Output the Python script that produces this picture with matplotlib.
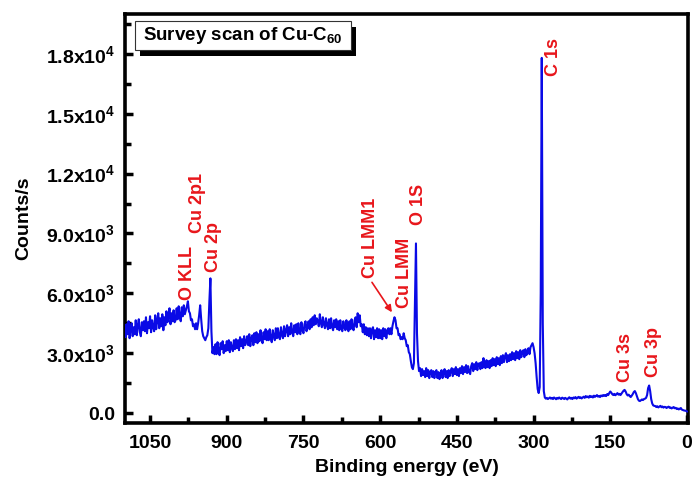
import numpy as np
import matplotlib
matplotlib.use("Agg")
import matplotlib.pyplot as plt
from matplotlib.patches import Rectangle
from matplotlib.ticker import FixedLocator, MultipleLocator, FixedFormatter

plt.rcParams['font.family'] = ['Liberation Sans', 'DejaVu Sans']
plt.rcParams['font.weight'] = 'bold'
plt.rcParams['mathtext.fontset'] = 'custom'
plt.rcParams['mathtext.rm'] = 'Liberation Sans:bold'
plt.rcParams['mathtext.bf'] = 'Liberation Sans:bold'

# XPS survey spectrum, counts/s sampled every 2 eV from 1100 eV down to 0 eV
counts = [
    4400, 3800, 4450, 3950, 4600, 3750, 4200, 4500, 3850, 4300,   # 1100
    3950, 4650, 3900, 4400, 4700, 4050, 3850, 4550, 4150, 4600,   # 1080
    4100, 4800, 4000, 4550, 4250, 4850, 4050, 4650, 4300, 4100,   # 1060
    4900, 4200, 4650, 5000, 4250, 4750, 4350, 4950, 4150, 4800,   # 1040
    4400, 5100, 4550, 4850, 5250, 4450, 5000, 4600, 5150, 4550,   # 1020
    4650, 5250, 4700, 5350, 4850, 4600, 5300, 4850, 5400, 4950,   # 1000
    5150, 5350, 5600, 5100, 5000, 4650, 4700, 4350, 4450, 4200,   # 980
    4500, 4200, 4500, 4900, 5400, 4700, 4100, 3850, 3750, 3650,   # 960
    3800, 3900, 4250, 5600, 6750, 4100, 3000, 3300, 2950, 3450,   # 940
    2950, 3550, 3100, 2900, 3500, 3200, 3600, 3000, 3400, 3100,   # 920
    3600, 3150, 3650, 3050, 3550, 3250, 3100, 3650, 3200, 3700,   # 900
    3250, 3650, 3150, 3800, 3350, 3700, 3250, 3850, 3400, 3550,   # 880
    3850, 3400, 3950, 3350, 3750, 3900, 3400, 4000, 3550, 4050,   # 860
    3500, 3950, 3600, 4150, 3700, 3500, 4050, 3700, 4200, 3650,   # 840
    4100, 3650, 4200, 3750, 3550, 4150, 3850, 3650, 4250, 3750,   # 820
    4250, 3800, 3700, 4300, 3900, 3750, 4350, 3850, 4150, 4400,   # 800
    3850, 4300, 3950, 4500, 4050, 3850, 4400, 4050, 4450, 3950,   # 780
    4500, 4050, 3950, 4550, 4150, 4000, 4450, 4600, 4100, 4400,   # 760
    4600, 4200, 4700, 4300, 4800, 4400, 4900, 4450, 4750, 4600,   # 740
    4350, 4950, 4500, 4300, 4800, 4450, 4250, 4750, 4400, 4200,   # 720
    4700, 4250, 4750, 4300, 4150, 4650, 4300, 4700, 4200, 4600,   # 700
    4150, 4650, 4250, 4100, 4600, 4300, 4150, 4650, 4250, 4100,   # 680
    4600, 4200, 4700, 4300, 4150, 4650, 4800, 4300, 5000, 4550,   # 660
    4900, 4350, 4450, 4050, 4450, 3950, 4300, 3900, 4250, 3850,   # 640
    4250, 3750, 4200, 4300, 3700, 4150, 3800, 4250, 3750, 4200,   # 620
    3750, 4150, 3700, 4250, 3850, 4200, 3750, 4100, 4250, 3950,   # 600
    4250, 3950, 4350, 4600, 4800, 4650, 4250, 4250, 3900, 3950,   # 580
    3700, 3800, 3700, 4000, 3750, 3650, 3350, 3400, 3050, 2950,   # 560
    2600, 2300, 2200, 2500, 5500, 8500, 4000, 2600, 2100, 2250,   # 540
    1850, 2200, 1900, 2100, 1800, 2250, 1850, 2150, 1750, 2050,   # 520
    2150, 1800, 2100, 1750, 2050, 2150, 1750, 2050, 1700, 2000,   # 500
    2150, 1750, 2050, 2200, 1800, 2100, 1750, 2150, 1850, 2100,   # 480
    2250, 1850, 2200, 1950, 2300, 1900, 2200, 1850, 2250, 2000,   # 460
    2350, 1950, 2300, 2050, 2400, 2000, 2350, 2050, 1950, 2350,   # 440
    2500, 2100, 2450, 2200, 2550, 2150, 2450, 2500, 2200, 2550,   # 420
    2250, 2750, 2350, 2250, 2650, 2300, 2600, 2250, 2650, 2350,   # 400
    2750, 2400, 2700, 2350, 2800, 2450, 2750, 2400, 2850, 2500,   # 380
    2900, 2550, 2850, 3000, 2550, 2900, 2600, 2950, 2650, 3050,   # 360
    2700, 3000, 2650, 3100, 2750, 3050, 2700, 3150, 2800, 3050,   # 340
    3150, 2800, 3200, 2900, 3050, 3250, 2950, 3300, 3400, 3500,   # 320
    3300, 3000, 2500, 1800, 1200, 1000, 1300, 6000, 17800, 4500,  # 300
    1100, 780, 720, 760, 700, 740, 780, 720, 760, 700,            # 280
    780, 740, 690, 760, 720, 780, 730, 700, 770, 740,             # 260
    700, 760, 720, 680, 750, 790, 720, 760, 700, 780,             # 240
    740, 800, 720, 770, 810, 750, 790, 730, 780, 820,             # 220
    760, 850, 790, 830, 770, 860, 800, 840, 780, 870,             # 200
    810, 850, 900, 820, 860, 800, 880, 840, 900, 860,             # 180
    900, 850, 950, 900, 1000, 1080, 1020, 940, 900, 960,          # 160
    890, 940, 1000, 920, 960, 900, 980, 1050, 1120, 1160,         # 140
    1080, 950, 880, 920, 850, 800, 870, 950, 1050, 1100,          # 120
    1000, 850, 700, 620, 600, 640, 680, 650, 700, 720,            # 100
    760, 900, 1250, 1380, 1100, 700, 480, 380, 360, 350,          # 80
    300, 340, 280, 320, 360, 290, 330, 270, 310, 300,             # 60
    250, 290, 320, 260, 280, 230, 270, 300, 240, 260,             # 40
    200, 230, 180, 220, 250, 170, 150, 130, 120, 110,             # 20
    80,                                                           # 0
]
energy = np.linspace(1100, 0, len(counts))

# peak assignments: label, energy position, counts at label base
peak_labels = ['O KLL', 'Cu 2p1', 'Cu 2p', 'Cu LMM1', 'Cu LMM', 'O 1S', 'C 1s', 'Cu 3s', 'Cu 3p']
peak_label_x = [977, 957, 925, 618, 553, 526, 262, 121, 65]
peak_label_y = [5650, 9000, 7050, 6750, 5250, 9400, 16900, 1550, 1800]

# arrow from the Cu LMM1 label to its feature
arrow_start = (616, 6550)
arrow_end = (577, 5050)

x_ticks = [1050, 900, 750, 600, 450, 300, 150, 0]
x_tick_labels = ['1050', '900', '750', '600', '450', '300', '150', '0']
y_ticks = [0, 3000, 6000, 9000, 12000, 15000, 18000]
y_tick_labels = ['0.0', r'$\mathbf{3.0x10^{3}}$', r'$\mathbf{6.0x10^{3}}$',
                 r'$\mathbf{9.0x10^{3}}$', r'$\mathbf{1.2x10^{4}}$',
                 r'$\mathbf{1.5x10^{4}}$', r'$\mathbf{1.8x10^{4}}$']

W, H = 694, 482
fig = plt.figure(figsize=(W / 100, H / 100), dpi=100)
ax_l, ax_r, ax_t, ax_b = 125, 688, 14, 423
ax = fig.add_axes([ax_l / W, 1 - ax_b / H, (ax_r - ax_l) / W, (ax_b - ax_t) / H])

ax.plot(energy, counts, color='#0a0ae6', lw=1.5, zorder=3)

ax.set_xlim(1099, -2)
ax.set_ylim(-500, 20000)

ax.xaxis.set_major_locator(FixedLocator(x_ticks))
ax.xaxis.set_major_formatter(FixedFormatter(x_tick_labels))
ax.xaxis.set_minor_locator(MultipleLocator(75))
ax.yaxis.set_major_locator(FixedLocator(y_ticks))
ax.yaxis.set_major_formatter(FixedFormatter(y_tick_labels))
ax.yaxis.set_minor_locator(MultipleLocator(1500))

ax.tick_params(which='both', direction='in', top=False, right=False, width=2.5)
ax.tick_params(which='major', length=6)
ax.tick_params(which='minor', length=4)
ax.tick_params(axis='x', pad=9, labelsize=14)
ax.tick_params(axis='y', pad=7, labelsize=14)
for sp in ax.spines.values():
    sp.set_linewidth(2.6)

ax.set_xlabel('Binding energy (eV)', fontsize=14, fontweight='bold', labelpad=5)
ax.set_ylabel('Counts/s', fontsize=14, fontweight='bold', labelpad=10)

red = '#e8161b'
for lab, px, py in zip(peak_labels, peak_label_x, peak_label_y):
    ax.text(px, py, lab, rotation=90, ha='center', va='bottom', color=red,
            fontsize=13, fontweight='bold', zorder=4)

ax.annotate('', xy=arrow_end, xytext=arrow_start,
            arrowprops=dict(arrowstyle='-|>', color=red, lw=1.2,
                            mutation_scale=10, shrinkA=0, shrinkB=0))

# title box with drop shadow
bw = (351 - 135) / (ax_r - ax_l)
bh = (50 - 21) / (ax_b - ax_t)
bx = (135 - ax_l) / (ax_r - ax_l)
by = 1 - (50 - ax_t) / (ax_b - ax_t)
dx = 5 / (ax_r - ax_l)
dy = 6 / (ax_b - ax_t)
ax.add_patch(Rectangle((bx + dx, by - dy), bw, bh, transform=ax.transAxes,
                       facecolor='black', edgecolor='black', lw=0, zorder=5))
ax.add_patch(Rectangle((bx, by), bw, bh, transform=ax.transAxes,
                       facecolor='white', edgecolor='#333333', lw=0.8, zorder=6))
ax.text(bx + bw / 2, by + bh / 2, r'Survey scan of Cu-C$_{\mathbf{60}}$',
        transform=ax.transAxes, ha='center', va='center', fontsize=13.5,
        fontweight='bold', zorder=7)

fig.savefig('out.png', dpi=100)
